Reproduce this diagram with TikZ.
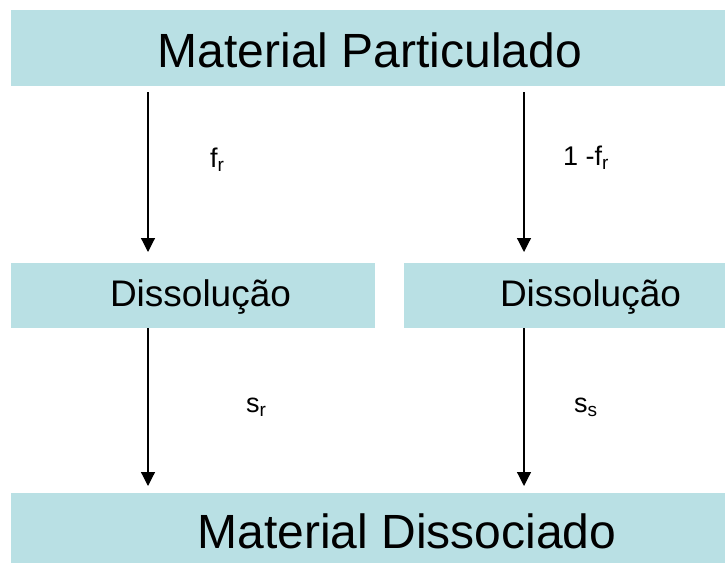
\documentclass[tikz,border=0pt]{standalone}
\usepackage{fontspec}
\setmainfont{Liberation Sans}
\usetikzlibrary{arrows.meta}
\definecolor{boxc}{RGB}{185,224,228}
\newcommand{\subr}[1]{\raisebox{-4pt}{\fontsize{19}{22}\selectfont #1}}
\begin{document}
\begin{tikzpicture}[x=1pt,y=-1pt,
  box/.style={fill=boxc, draw=none, inner sep=0pt, anchor=north west},
  arr/.style={-{Triangle[width=14pt,length=14pt]}, line width=1.2pt},
  big/.style={font=\fontsize{48}{56}\selectfont, inner sep=0pt, anchor=base},
  mid/.style={font=\fontsize{37}{42}\selectfont, inner sep=0pt, anchor=base},
  lab/.style={font=\fontsize{27}{30}\selectfont, inner sep=0pt, anchor=base west}]
\useasboundingbox (0,0) rectangle (725,564);
% boxes
\node[box, minimum width=714pt, minimum height=76pt] (top) at (11,10) {};
\node[box, minimum width=364pt, minimum height=65pt] (dl) at (11,263) {};
\node[box, minimum width=321pt, minimum height=65pt] (dr) at (404,263) {};
\node[box, minimum width=714pt, minimum height=70pt] (bot) at (11,493) {};
% texts
\node[big] (ttop) at (370,68) {Material Particulado};
\node[mid] (tdl) at (200.5,306) {Dissolução};
\node[mid] (tdr) at (590.5,306) {Dissolução};
\node[big] (tbot) at (407,548) {Material Dissociado};
% arrow columns
\coordinate (xl) at (148,0);
\coordinate (xr) at (524,0);
% connectors
\draw[arr, shorten <=6pt, shorten >=11pt] (top.south -| xl) -- (dl.north -| xl);
\draw[arr, shorten <=6pt, shorten >=11pt] (top.south -| xr) -- (dr.north -| xr);
\draw[arr, shorten >=7pt] (dl.south -| xl) -- (bot.north -| xl);
\draw[arr, shorten >=7pt] (dr.south -| xr) -- (bot.north -| xr);
% labels
\node[lab] (lfr) at (210,168) {f\subr{r}};
\node[lab] (lfr2) at (563,166) {1 -f\subr{r}};
\node[lab] (lsr) at (246,412) {s\subr{r}};
\node[lab] (lss) at (574,412) {s\subr{s}};
\end{tikzpicture}
\end{document}
